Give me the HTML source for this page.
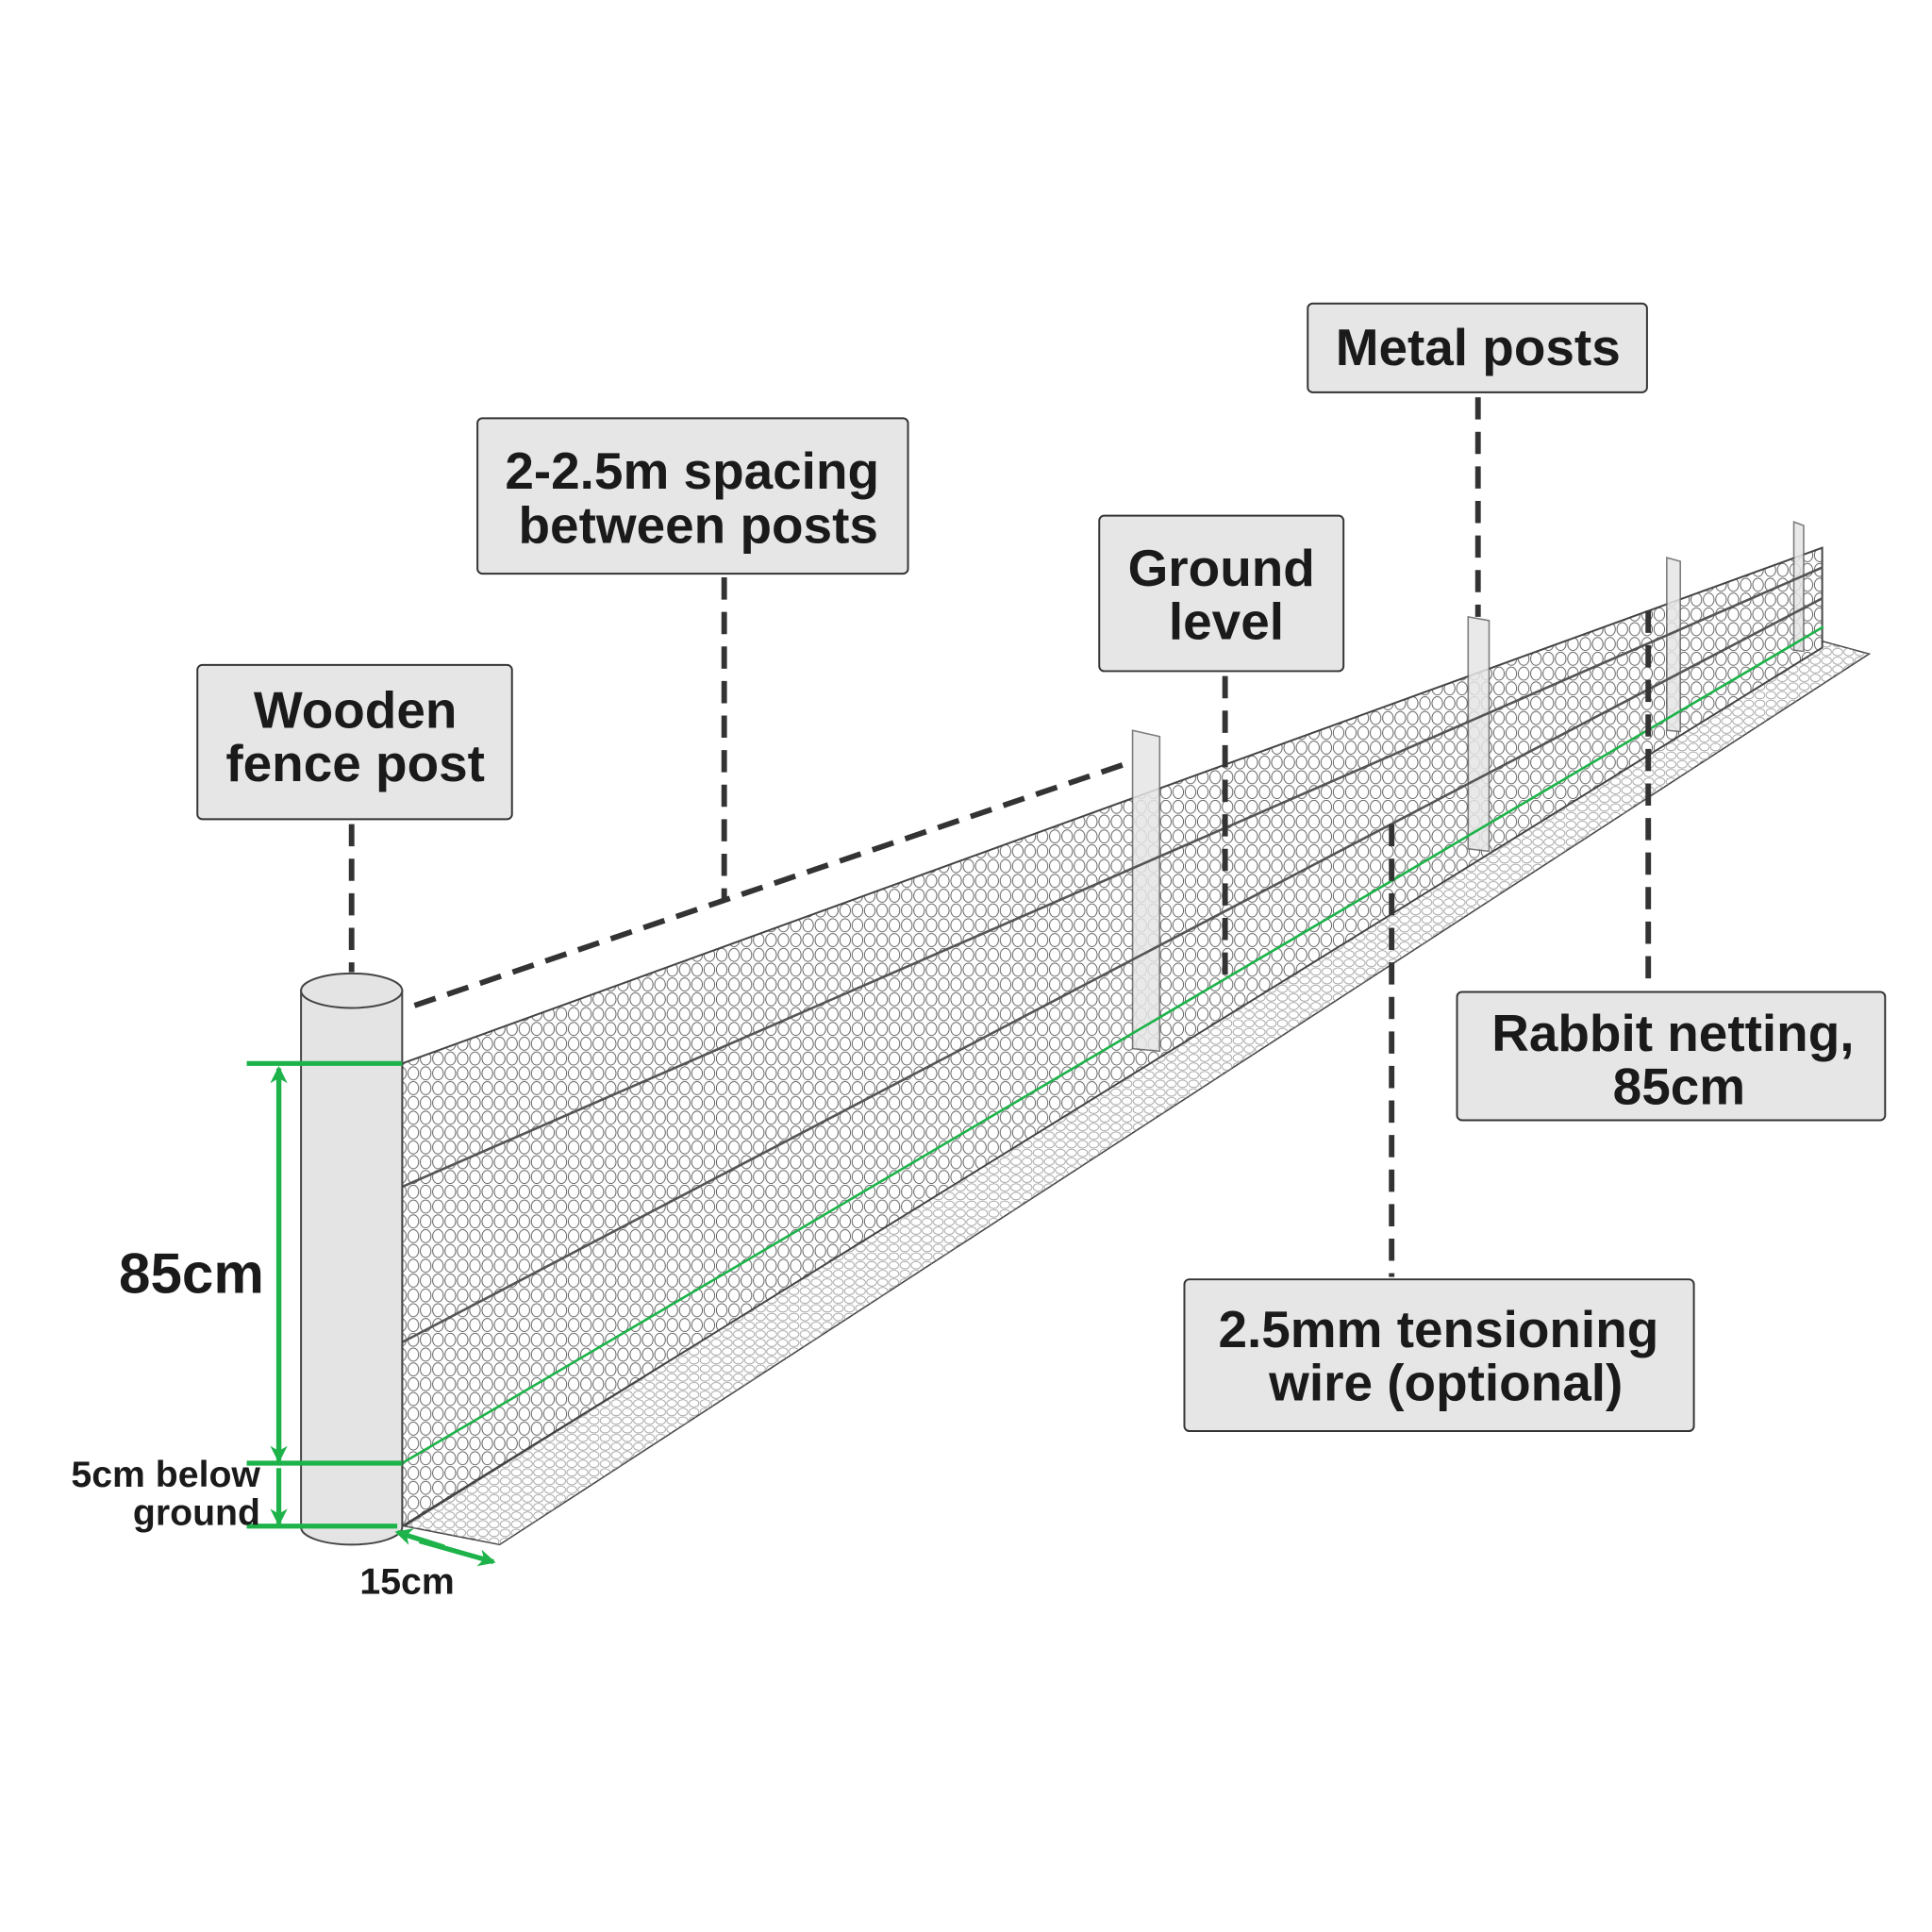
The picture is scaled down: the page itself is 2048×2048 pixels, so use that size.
<!DOCTYPE html>
<html><head><meta charset="utf-8"><style>html,body{margin:0;padding:0;background:#fff}svg{display:block}</style></head>
<body>
<svg width="2048" height="2048" viewBox="0 0 1566 1566" xmlns="http://www.w3.org/2000/svg" font-family="Liberation Sans, sans-serif" font-weight="bold">
<defs>
<pattern id="mesh" width="10" height="12" patternUnits="userSpaceOnUse">
<ellipse cx="5" cy="6" rx="4.3" ry="5.3" fill="none" stroke="#555" stroke-width="0.7"/>
</pattern>
<pattern id="mesh2" width="9" height="7" patternUnits="userSpaceOnUse">
<ellipse cx="4.5" cy="3.5" rx="4" ry="3" fill="none" stroke="#999" stroke-width="0.6"/>
</pattern>
<marker id="ah" markerWidth="14" markerHeight="14" refX="12" refY="7" orient="auto" markerUnits="userSpaceOnUse" viewBox="0 0 14 14"><path d="M0,0 L14,7 L0,14 L4,7 Z" fill="#1db34a"/></marker>
</defs>
<polygon points="328,1237 405,1252 1515,530 1478,520" fill="#fff" stroke="#444" stroke-width="1.2"/>
<polygon points="328,1237 405,1252 1515,530 1478,520" fill="url(#mesh2)"/>
<polygon points="326,862 1477,444 1477,525 326,1237" fill="#fff"/>
<polygon points="326,862 1477,444 1477,525 326,1237" fill="url(#mesh)" stroke="#444" stroke-width="1.5"/>
<g fill="#e6e6e6" stroke="#666" stroke-width="1.2" opacity="0.85">
<polygon points="918,592 940,597 940,852 918,850"/>
<polygon points="1190,500 1207,503 1207,690 1190,688"/>
<polygon points="1351,452 1362,455 1362,593 1351,592"/>
<polygon points="1454,423 1462,426 1462,528 1454,527"/>
</g>
<line x1="326" y1="962" x2="1477" y2="460" stroke="#555" stroke-width="2"/>
<line x1="326" y1="1088" x2="1477" y2="485" stroke="#555" stroke-width="2"/>
<line x1="326" y1="1186" x2="1478" y2="508" stroke="#1db34a" stroke-width="2"/>
<path d="M244,803 L244,1238 A41,14 0 0 0 326,1238 L326,803 Z" fill="#e4e4e4" stroke="#444" stroke-width="1.5"/>
<ellipse cx="285" cy="803" rx="41" ry="14" fill="#e4e4e4" stroke="#444" stroke-width="1.5"/>
<g stroke="#1db34a" stroke-width="4" fill="none">
<line x1="200" y1="862" x2="326" y2="862"/>
<line x1="200" y1="1186" x2="326" y2="1186"/>
<line x1="200" y1="1237" x2="322" y2="1237"/>
<line x1="226" y1="1180" x2="226" y2="866" marker-end="url(#ah)"/>
<line x1="226" y1="870" x2="226" y2="1184" marker-end="url(#ah)"/>
<line x1="226" y1="1190" x2="226" y2="1235" marker-end="url(#ah)"/>
<line x1="360" y1="1254" x2="322" y2="1242" marker-end="url(#ah)"/>
<line x1="340" y1="1249" x2="400" y2="1266" marker-end="url(#ah)"/>
</g>
<g stroke="#333" stroke-width="4.5" stroke-dasharray="18,10" fill="none">
<line x1="285" y1="668" x2="285" y2="788"/>
<line x1="587" y1="468" x2="587" y2="728"/>
<line x1="336" y1="815" x2="910" y2="620"/>
<line x1="993" y1="548" x2="993" y2="792"/>
<line x1="1198" y1="322" x2="1198" y2="500"/>
<line x1="1336" y1="495" x2="1336" y2="800"/>
<line x1="1128" y1="668" x2="1128" y2="1035"/>
</g>
<g fill="#e6e6e6" stroke="#333" stroke-width="1.5">
<rect x="160" y="539" width="255" height="125" rx="4"/>
<rect x="387" y="339" width="349" height="126" rx="4"/>
<rect x="891" y="418" width="198" height="126" rx="4"/>
<rect x="1060" y="246" width="275" height="72" rx="4"/>
<rect x="1181" y="804" width="347" height="104" rx="4"/>
<rect x="960" y="1037" width="413" height="123" rx="4"/>
</g>
<g fill="#1a1a1a" text-anchor="middle" font-size="42">
<text x="288" y="590">Wooden</text>
<text x="288" y="633">fence post</text>
<text x="561" y="396">2-2.5m spacing</text>
<text x="566" y="440">between posts</text>
<text x="990" y="475">Ground</text>
<text x="994" y="518">level</text>
<text x="1198" y="296">Metal posts</text>
<text x="1356" y="852">Rabbit netting,</text>
<text x="1361" y="895">85cm</text>
<text x="1166" y="1092">2.5mm tensioning</text>
<text x="1172" y="1135">wire (optional)</text>
</g>
<g fill="#1a1a1a" text-anchor="end">
<text x="214" y="1048" font-size="46">85cm</text>
<text x="211" y="1205" font-size="30">5cm below</text>
<text x="211" y="1236" font-size="30">ground</text>
</g>
<text x="330" y="1292" font-size="30" fill="#1a1a1a" text-anchor="middle">15cm</text>
</svg>
</body></html>
